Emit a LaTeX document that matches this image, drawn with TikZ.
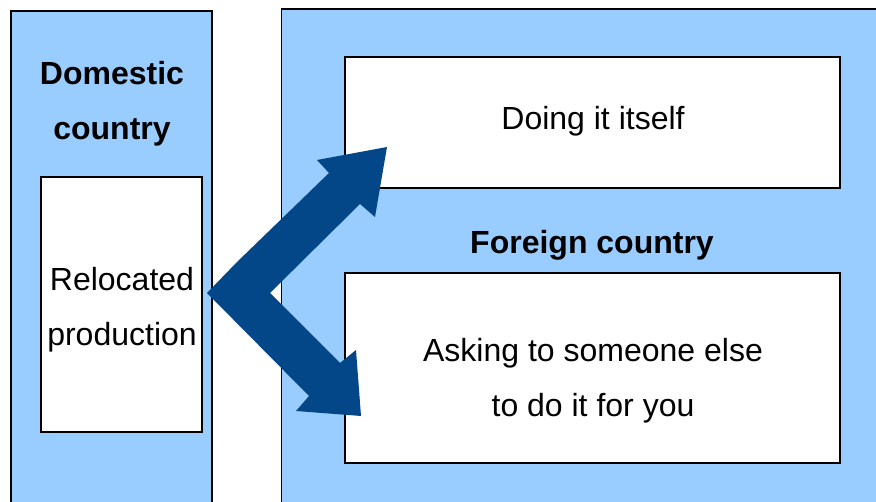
\documentclass[tikz,border=0pt]{standalone}
\usepackage{fontspec}
\setmainfont{Liberation Sans}
\definecolor{panelblue}{HTML}{99CCFF}
\definecolor{arrowblue}{HTML}{034788}
\begin{document}
\begin{tikzpicture}[x=1pt,y=-1pt,
  panel/.style={draw=black,line width=1.3pt,fill=panelblue},
  whitebox/.style={draw=black,line width=1.3pt,fill=white},
  label/.style={anchor=base,inner sep=0pt,font=\fontsize{32}{55}\selectfont},
  title/.style={label,font=\fontsize{32}{55}\selectfont\bfseries}]
\useasboundingbox (0,0) rectangle (876,502);
\clip (0,0) rectangle (876,502);

% the two country panels (they run past the lower and right edges)
\draw[panel] (11,11) rectangle (212,530);
\draw[panel] (281.5,9) rectangle (900,530);

% boxes
\draw[whitebox] (41,177) rectangle (202,432);
\draw[whitebox] (345,57) rectangle (840,188);
\draw[whitebox] (345,273) rectangle (840,463);

% labels
\node[title] (dom1) at (112,84.5) {Domestic};
\node[title] (dom2) at (112,139.5) {country};
\node[title] (foreign) at (592,253.5) {Foreign country};
\node[label] (rel1) at (122,290.5) {Relocated};
\node[label] (rel2) at (122,345.5) {production};
\node[label] (doing) at (593,129.5) {Doing it itself};
\node[label] (ask1) at (593,361.5) {Asking to someone else};
\node[label] (ask2) at (593,416.5) {to do it for you};

% bent double arrow leading from the relocated production to both options
\fill[arrowblue] (207,293) -- (237,262) -- (329,173) -- (317,160) -- (387,147)
  -- (375,217) -- (360,204) -- (270,293) -- (340,363) -- (356,350)
  -- (361,416) -- (296,411) -- (309,396) -- cycle;
\end{tikzpicture}
\end{document}
